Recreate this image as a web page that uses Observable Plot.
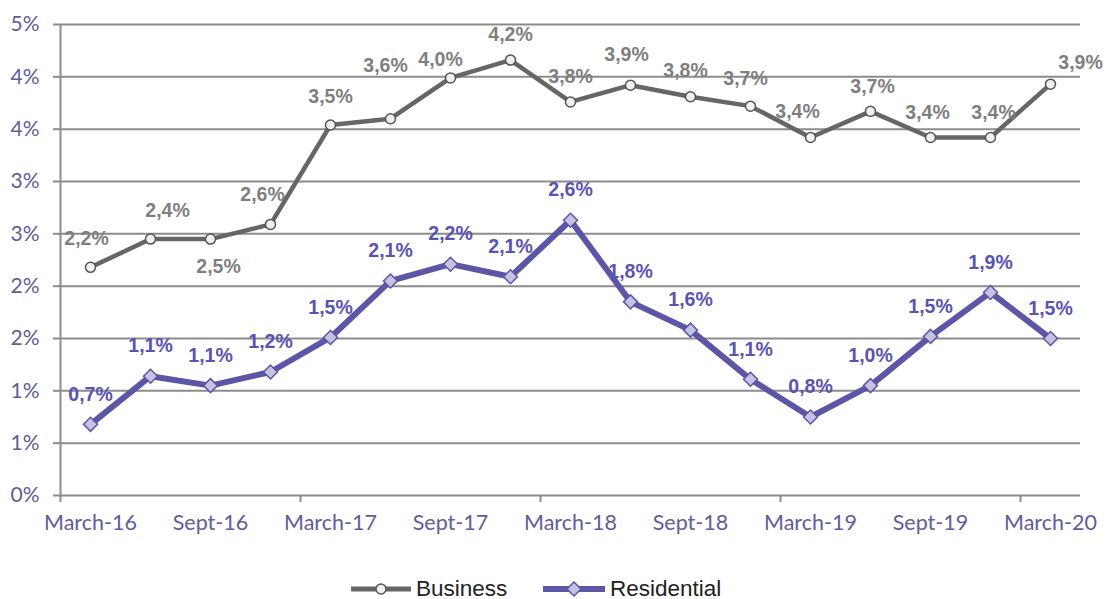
<!DOCTYPE html>
<html>
<head>
<meta charset="utf-8">
<script src="https://cdn.jsdelivr.net/npm/d3@7"></script>
<script src="https://cdn.jsdelivr.net/npm/@observablehq/plot@0.6"></script>
<style>
  html, body { margin: 0; padding: 0; background: #fff; overflow: hidden; }
  #wrap { position: relative; width: 1106px; height: 599px; }
  .legend-item { position: absolute; top: 577px; height: 24px; display: flex; align-items: center;
    font-family: "Liberation Sans", Arial, sans-serif; font-size: 22.5px; color: #222; }
  .legend-item svg { margin-right: 5px; }
</style>
</head>
<body>
<div id="wrap">
  <div id="chart"></div>
  <div class="legend-item" id="leg-b" style="left:351px"></div>
  <div class="legend-item" id="leg-r" style="left:543px"></div>
</div>
<script>
// ---- data ----
const categories = ["March-16","June-16","Sept-16","Dec-16","March-17","June-17","Sept-17","Dec-17",
  "March-18","June-18","Sept-18","Dec-18","March-19","June-19","Sept-19","Dec-19","March-20"];
const business = [2.18, 2.45, 2.45, 2.59, 3.54, 3.60, 3.99, 4.16, 3.76, 3.92, 3.81, 3.72, 3.42, 3.67, 3.42, 3.42, 3.93];
const residential = [0.68, 1.14, 1.05, 1.18, 1.51, 2.05, 2.21, 2.09, 2.63, 1.85, 1.58, 1.11, 0.75, 1.05, 1.52, 1.94, 1.50];
const businessLabels = ["2,2%","2,4%","2,5%","2,6%","3,5%","3,6%","4,0%","4,2%","3,8%","3,9%","3,8%","3,7%","3,4%","3,7%","3,4%","3,4%","3,9%"];
const residentialLabels = ["0,7%","1,1%","1,1%","1,2%","1,5%","2,1%","2,2%","2,1%","2,6%","1,8%","1,6%","1,1%","0,8%","1,0%","1,5%","1,9%","1,5%"];
const yTickValues = [0, 0.5, 1, 1.5, 2, 2.5, 3, 3.5, 4, 4.5];
const yTickLabels = ["0%","1%","1%","2%","2%","3%","3%","4%","4%","5%"];
const xLabelIndex = [0, 2, 4, 6, 8, 10, 12, 14, 16];
const xTickBoundaries = [-0.5, 3.5, 7.5, 11.5, 15.5];
const seriesNames = ["Business", "Residential"];
// pixel nudges of the hand-placed business data labels [dx, dy]
const businessLabelShift = [[-4,-29],[17,-28],[8,28],[-8,-30],[0,-28],[-5,-53],[-10,-18],[0,-25],[0,-25],
  [-4,-30],[-5,-26],[-5,-27],[-13,-26],[2,-25],[-3,-25],[3,-25],[30,-21]];

const rows = categories.map((c, i) => ({
  i, category: c, business: business[i], residential: residential[i],
  bLabel: businessLabels[i], rLabel: residentialLabels[i]
}));

const GRID = "#8c8c8c", AXISTXT = "#5e5e98", BUS = "#666666", RES = "#5b56a6";
const LABELFONT = "'Liberation Sans', Arial, sans-serif";

const plot = Plot.plot({
  width: 1106, height: 560,
  marginLeft: 60, marginRight: 26, marginTop: 24, marginBottom: 65,
  style: { fontFamily: "Lato, sans-serif", background: "#fff", overflow: "visible" },
  x: { type: "linear", domain: [-0.5, 16.5], axis: null },
  y: { type: "linear", domain: [0, 4.5], axis: null },
  marks: [
    Plot.ruleY(yTickValues, { stroke: GRID, strokeWidth: 2 }),
    Plot.axisY(yTickValues, { anchor: "left", tickSize: 7, tickPadding: 14, stroke: GRID, strokeWidth: 2,
      fill: AXISTXT, fontSize: 21, tickFormat: d => yTickLabels[yTickValues.indexOf(d)], label: null }),
    Plot.ruleX([-0.5], { stroke: GRID, strokeWidth: 2 }),
    Plot.axisX(xTickBoundaries, { anchor: "bottom", tickSize: 7, stroke: GRID, strokeWidth: 2,
      tickFormat: () => "", label: null }),
    Plot.axisX(xLabelIndex, { anchor: "bottom", tickSize: 0, tickPadding: 19, fill: AXISTXT, fontSize: 21.5,
      tickFormat: i => categories[i], label: null }),
    Plot.line(rows, { x: "i", y: "business", stroke: BUS, strokeWidth: 4.5 }),
    Plot.line(rows, { x: "i", y: "residential", stroke: RES, strokeWidth: 6 }),
    Plot.dot(rows, { x: "i", y: "business", r: 5, fill: "#f0f0f0", stroke: "#555", strokeWidth: 1.5 }),
    Plot.dot(rows, { x: "i", y: "residential", symbol: "diamond2", r: 6.3, fill: "#c5c3e2", stroke: RES, strokeWidth: 1.5 }),
    ...rows.map((r, k) => Plot.text([r], { x: "i", y: "business", text: "bLabel",
      dx: businessLabelShift[k][0], dy: businessLabelShift[k][1],
      fill: "#7f7f7f", fontWeight: "bold", fontSize: 19.5, fontFamily: LABELFONT })),
    Plot.text(rows, { x: "i", y: "residential", text: "rLabel", dy: -30,
      fill: "#5954b0", fontWeight: "bold", fontSize: 19.5, fontFamily: LABELFONT })
  ]
});
document.getElementById("chart").appendChild(plot);

// ---- legend ----
document.getElementById("leg-b").innerHTML =
  `<svg width="60" height="16"><line x1="1" y1="8" x2="59" y2="8" stroke="${BUS}" stroke-width="5" stroke-linecap="round"/>` +
  `<circle cx="30" cy="8" r="5" fill="#f0f0f0" stroke="#555" stroke-width="1.5"/></svg><span>${seriesNames[0]}</span>`;
document.getElementById("leg-r").innerHTML =
  `<svg width="62" height="16"><line x1="1" y1="8" x2="61" y2="8" stroke="${RES}" stroke-width="6" stroke-linecap="round"/>` +
  `<path d="M31,1 L38,8 L31,15 L24,8 Z" fill="#c5c3e2" stroke="${RES}" stroke-width="1.5"/></svg><span>${seriesNames[1]}</span>`;
</script>
</body>
</html>
